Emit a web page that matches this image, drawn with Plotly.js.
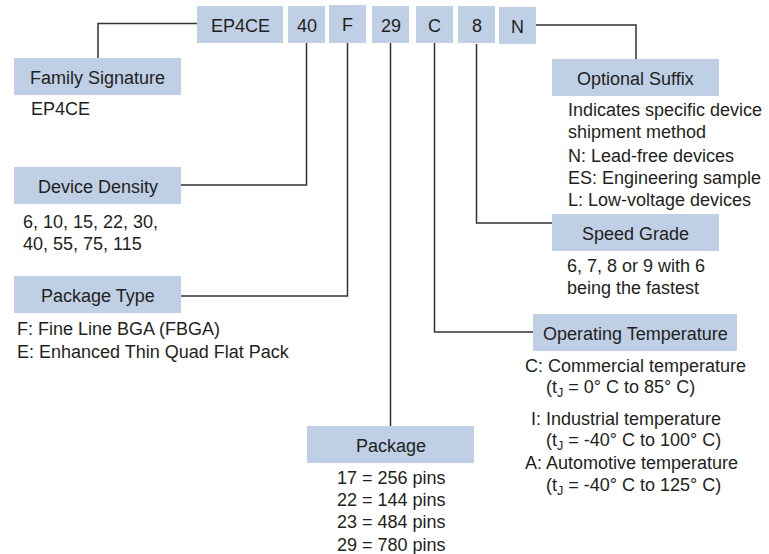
<!DOCTYPE html>
<html>
<head>
<meta charset="utf-8">
<script src="https://cdn.plot.ly/plotly-3.0.1.min.js"></script>
<style>html,body{margin:0;padding:0;background:#fff;}#chart{width:769px;height:554px;}</style>
</head>
<body>
<div id="chart"></div>
<script>
// ---- data ----
var codeParts = ['EP4CE', '40', 'F', '29', 'C', '8', 'N'];
var fieldNames = ['Family Signature', 'Device Density', 'Package Type', 'Package',
                  'Operating Temperature', 'Speed Grade', 'Optional Suffix'];
var familyDesc = ['EP4CE'];
var densityDesc = ['6, 10, 15, 22, 30,', '40, 55, 75, 115'];
var packageTypeDesc = ['F: Fine Line BGA (FBGA)', 'E: Enhanced Thin Quad Flat Pack'];
var packageDesc = ['17 = 256 pins', '22 = 144 pins', '23 = 484 pins', '29 = 780 pins'];
var tempDesc = ['C: Commercial temperature', '(t<sub>J</sub> = 0° C to 85° C)',
                'I: Industrial temperature', '(t<sub>J</sub> = -40° C to 100° C)',
                'A: Automotive temperature', '(t<sub>J</sub> = -40° C to 125° C)'];
var speedDesc = ['6, 7, 8 or 9 with 6', 'being the fastest'];
var suffixDesc = ['Indicates specific device', 'shipment method', 'N: Lead-free devices',
                  'ES: Engineering sample', 'L: Low-voltage devices'];

// ---- layout geometry (pixel space) ----
var codeBoxes = [[197,283,6,43],[288,325,6,43],[329,366,5,43],[372,409,6,43],
                 [416,453,6,43],[458,495,6,43],[499,536,7,44]];
var fieldBoxes = [[14,181,58,95],[14,181,167,204],[14,181,276,313],[307,474,426,463],
                  [533,737,314,351],[552,719,214,251],[552,719,59,96]];
var connectors = [
  [[197,23.5],[98,23.5],[98,58]],
  [[306.5,43],[306.5,185],[181,185]],
  [[347.5,43],[347.5,296],[181,296]],
  [[390.5,43],[390.5,426]],
  [[434.5,43],[434.5,332],[533,332]],
  [[476.5,44],[476.5,223],[552,223]],
  [[536,25],[636,25],[636,59]]
];
var descBlocks = [
  {lines: familyDesc, x: 29, y: [109], anchor: 'left'},
  {lines: densityDesc, x: 21, y: [222, 244], anchor: 'left'},
  {lines: packageTypeDesc, x: 15, y: [329, 352], anchor: 'left'},
  {lines: packageDesc, x: 391, y: [478, 500, 522, 545], anchor: 'center'},
  {lines: tempDesc, x: [523, 544, 529, 544, 523, 544], y: [366, 388, 419, 441, 463, 486], anchor: 'left'},
  {lines: speedDesc, x: 565, y: [266, 288], anchor: 'left'},
  {lines: suffixDesc, x: 566, y: [110, 132, 156, 178, 200], anchor: 'left'}
];

var BOX = '#bfcfe5', INK = '#231f20', LINE = '#333333';
var FONT = 'Liberation Sans, Arial, sans-serif';
var shapes = [], annotations = [];

function addBox(b, label) {
  shapes.push({type: 'rect', xref: 'x', yref: 'y', x0: b[0], x1: b[1], y0: b[2], y1: b[3],
               fillcolor: BOX, line: {width: 0}, layer: 'below'});
  annotations.push({xref: 'x', yref: 'y', x: (b[0] + b[1]) / 2, y: (b[2] + b[3]) / 2 + 1,
                    text: label, showarrow: false, xanchor: 'center', yanchor: 'middle',
                    font: {family: FONT, size: 18, color: INK}});
}
codeParts.forEach(function (c, i) { addBox(codeBoxes[i], c); });
fieldNames.forEach(function (f, i) { addBox(fieldBoxes[i], f); });

connectors.forEach(function (pts) {
  var path = 'M' + pts.map(function (p) { return p[0] + ',' + p[1]; }).join(' L');
  shapes.push({type: 'path', xref: 'x', yref: 'y', path: path,
               line: {color: LINE, width: 1.5}, fillcolor: 'rgba(0,0,0,0)'});
});

descBlocks.forEach(function (blk) {
  blk.lines.forEach(function (t, j) {
    var x = Array.isArray(blk.x) ? blk.x[j] : blk.x;
    annotations.push({xref: 'x', yref: 'y', x: x, y: blk.y[j], text: t, showarrow: false,
                      xanchor: blk.anchor, yanchor: 'middle',
                      font: {family: FONT, size: 18, color: INK}});
  });
});

var layout = {
  width: 769, height: 554,
  margin: {l: 0, r: 0, t: 0, b: 0},
  paper_bgcolor: '#ffffff', plot_bgcolor: '#ffffff',
  xaxis: {range: [0, 769], visible: false, fixedrange: true},
  yaxis: {range: [554, 0], visible: false, fixedrange: true},
  showlegend: false,
  shapes: shapes,
  annotations: annotations
};
Plotly.newPlot('chart', [{x: [], y: [], type: 'scatter', mode: 'markers'}], layout,
               {displayModeBar: false, staticPlot: true});
</script>
</body>
</html>
